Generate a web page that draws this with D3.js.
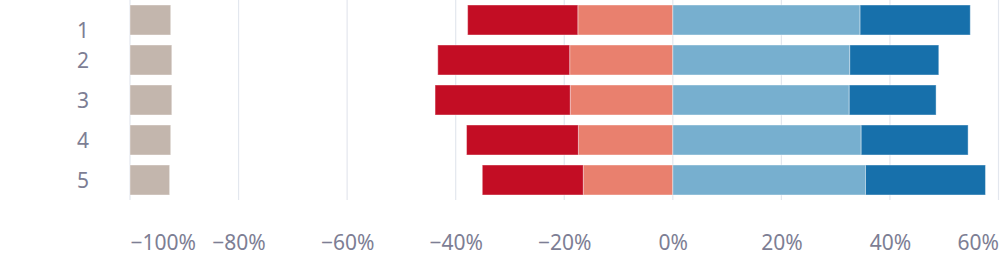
<!DOCTYPE html>
<html>
<head>
<meta charset="utf-8">
<script src="https://cdn.jsdelivr.net/npm/d3@7"></script>
<style>
  html, body { margin: 0; padding: 0; background: #fff; }
  svg { display: block; }
  text { font-family: "Noto Sans", sans-serif; }
</style>
</head>
<body>
<svg id="chart" width="1000" height="263"></svg>
<script>
const categories = ["1", "2", "3", "4", "5"];
const noAnswer    = [7.5, 7.7, 7.7, 7.5, 7.3];
const stronglyNeg = [20.3, 24.3, 24.9, 20.6, 18.6];
const negative    = [17.5, 19.0, 18.9, 17.4, 16.5];
const positive    = [34.5, 32.6, 32.5, 34.7, 35.5];
const stronglyPos = [20.3, 16.4, 16.0, 19.7, 22.1];
const tickValues  = [-100, -80, -60, -40, -20, 0, 20, 40, 60];

const colors = {
  noAnswer: "#c3b6ad",
  stronglyNeg: "#c30d24",
  negative: "#e9806e",
  positive: "#77afcf",
  stronglyPos: "#1770ab"
};

const svg = d3.select("#chart");
const x = d3.scaleLinear().domain([-100, 60]).range([130, 998.5]);
const y = d3.scaleBand().domain(categories).range([0, 200]).paddingInner(0.25).paddingOuter(0.125);

// gridlines
svg.append("g").selectAll("line").data(tickValues).join("line")
  .attr("x1", d => x(d)).attr("x2", d => x(d))
  .attr("y1", 0).attr("y2", 200)
  .attr("stroke", "#e3e7ee").attr("stroke-width", 1.2);

// build segments
const segs = [];
categories.forEach((c, i) => {
  segs.push({c, x0: -100, x1: -100 + noAnswer[i], color: colors.noAnswer});
  segs.push({c, x0: -negative[i], x1: 0, color: colors.negative});
  segs.push({c, x0: -negative[i] - stronglyNeg[i], x1: -negative[i], color: colors.stronglyNeg});
  segs.push({c, x0: 0, x1: positive[i], color: colors.positive});
  segs.push({c, x0: positive[i], x1: positive[i] + stronglyPos[i], color: colors.stronglyPos});
});

svg.append("g").selectAll("rect").data(segs).join("rect")
  .attr("x", d => x(d.x0))
  .attr("width", d => x(d.x1) - x(d.x0))
  .attr("y", d => y(d.c))
  .attr("height", y.bandwidth())
  .attr("fill", d => d.color)
  .attr("stroke", "rgba(255,255,255,0.4)")
  .attr("stroke-width", 1);

// x axis
const xAxis = svg.append("g").attr("transform", "translate(0,200)")
  .call(d3.axisBottom(x).tickValues(tickValues).tickSize(0)
    .tickFormat(d => (d < 0 ? "\u2212" : "") + Math.abs(d) + "%"));
xAxis.select(".domain").remove();
xAxis.selectAll("text")
  .attr("y", 50).attr("dy", 0)
  .attr("fill", "#7d7e94").attr("font-size", 21)
  .attr("font-family", "Noto Sans, sans-serif")
  .attr("text-anchor", (d, i) => i === 0 ? "start" : (i === tickValues.length - 1 ? "end" : "middle"));

// y axis
const yAxis = svg.append("g").attr("transform", "translate(89,0)")
  .call(d3.axisLeft(y).tickSize(0).tickPadding(0));
yAxis.select(".domain").remove();
yAxis.selectAll("text")
  .attr("fill", "#7d7e94").attr("font-size", 21)
  .attr("font-family", "Noto Sans, sans-serif")
  .attr("x", 0)
  .attr("dy", (d, i) => i === 0 ? "0.84em" : "0.36em");
</script>
</body>
</html>
